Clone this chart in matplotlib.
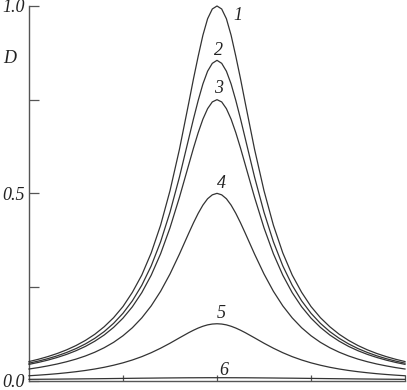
import numpy as np
import matplotlib
matplotlib.use("Agg")
import matplotlib.pyplot as plt

# values (curves are symmetric around 0)
x_half = [0.0, 0.05, 0.1, 0.15, 0.2, 0.25, 0.3, 0.4, 0.5, 0.6, 0.7, 0.8, 0.9,
          1.0, 1.1, 1.2, 1.3, 1.4, 1.5, 1.6, 1.7, 1.8, 1.9, 2.0]
d1_half = [1.0, 0.992, 0.966, 0.922, 0.866, 0.806, 0.742, 0.617, 0.507, 0.415,
           0.341, 0.282, 0.236, 0.198, 0.1682, 0.144, 0.1239, 0.1075, 0.0938,
           0.0823, 0.0726, 0.0643, 0.0572, 0.0511]
d2_half = [0.855, 0.847, 0.826, 0.792, 0.748, 0.699, 0.647, 0.543, 0.4496, 0.3707,
           0.3064, 0.2547, 0.2133, 0.180, 0.1531, 0.1311, 0.1131, 0.0982, 0.0857,
           0.0753, 0.0664, 0.0588, 0.0524, 0.0468]
d3_half = [0.75, 0.744, 0.726, 0.698, 0.662, 0.621, 0.577, 0.489, 0.408, 0.3387,
           0.2815, 0.235, 0.1974, 0.167, 0.1423, 0.122, 0.1054, 0.0915, 0.080,
           0.0702, 0.062, 0.0549, 0.0488, 0.0436]
d4_half = [0.5, 0.496, 0.4856, 0.4686, 0.4467, 0.4214, 0.394, 0.3377, 0.2848, 0.2386,
           0.1997, 0.1677, 0.1414, 0.120, 0.1024, 0.088, 0.076, 0.066, 0.0576,
           0.0506, 0.0446, 0.0395, 0.035, 0.0312]
d5_half = [0.152, 0.1512, 0.149, 0.1453, 0.1405, 0.1347, 0.1283, 0.1143, 0.100, 0.0867,
           0.0747, 0.0642, 0.0553, 0.0477, 0.0413, 0.0358, 0.0312, 0.0273, 0.024,
           0.0212, 0.0187, 0.0166, 0.0148, 0.0132]
d6_half = [0.0080, 0.0080, 0.0080, 0.0079, 0.0079, 0.0078, 0.0078, 0.0076, 0.0074, 0.0072,
           0.0069, 0.0067, 0.0064, 0.0061, 0.0058, 0.0055, 0.0052, 0.0050, 0.0047,
           0.0045, 0.0042, 0.0040, 0.0038, 0.0036]

curves = [d1_half, d2_half, d3_half, d4_half, d5_half, d6_half]
labels = ["1", "2", "3", "4", "5", "6"]
label_pos = [(0.225, 0.975), (0.02, 0.88), (0.02, 0.78), (0.05, 0.525),
             (0.05, 0.18), (0.075, 0.026)]


def full(half):
    half = np.asarray(half)
    return np.concatenate([half[:0:-1], half])


x = np.concatenate([-np.asarray(x_half)[:0:-1], x_half])

serif = {"family": "Liberation Serif", "style": "italic", "size": 13}

fig = plt.figure(figsize=(4.07, 3.90), dpi=100)
ax = fig.add_axes([29 / 407, 9.3 / 390, 376 / 407, 374.7 / 390])

for d in curves:
    ax.plot(x, full(d), color="#333333", lw=0.9, clip_on=False, zorder=3)

for lab, (lx, ly) in zip(labels, label_pos):
    ax.text(lx, ly, lab, ha="center", va="center", color="#222222", **serif)

ax.set_xlim(-2, 2)
ax.set_ylim(0, 1.0)

for side in ["top", "right"]:
    ax.spines[side].set_visible(False)
for side in ["left", "bottom"]:
    ax.spines[side].set_color("#555555")
    ax.spines[side].set_linewidth(1.0)

ax.set_xticks([-1, 0, 1, 2])
ax.set_xticklabels([])
ax.set_yticks([0.0, 0.5, 1.0])
ax.set_yticklabels(["0.0", "0.5", "1.0"], fontdict=serif, color="#222222")
ax.set_yticks([0.25, 0.75], minor=True)
ax.tick_params(axis="y", which="both", direction="in", length=7, width=0.9,
               color="#555555", pad=3)
ax.tick_params(axis="x", direction="in", length=4, width=0.9, color="#555555")

ax.text(-0.05, 0.86, "D", transform=ax.transAxes, ha="center", va="center",
        color="#222222", **serif)

fig.savefig("out.png", dpi=100)
